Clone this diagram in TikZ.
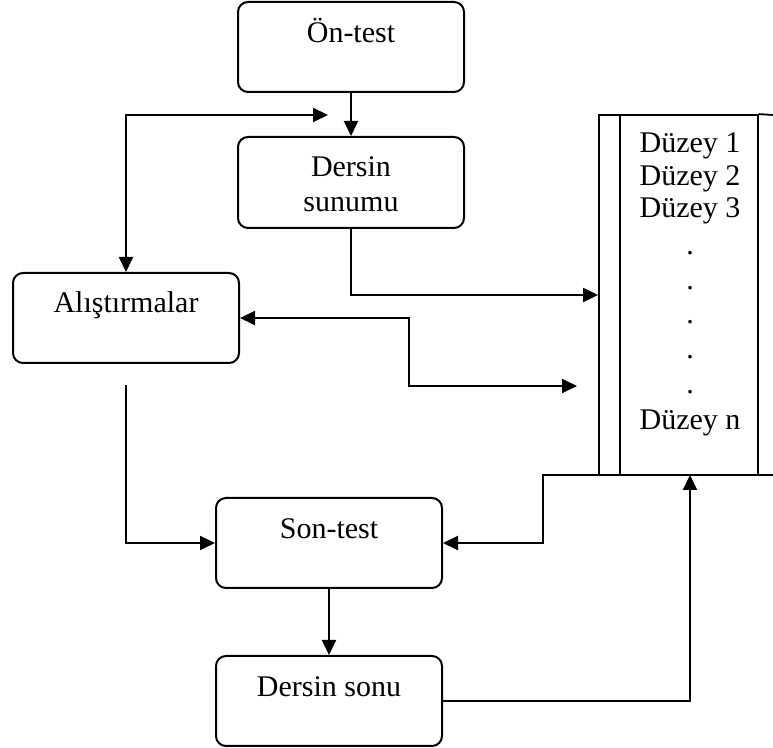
\documentclass[tikz,border=0pt]{standalone}
\usepackage{fontspec}
\setmainfont{Liberation Serif}
\usetikzlibrary{arrows.meta,fit}
\begin{document}
\begin{tikzpicture}[x=0.5pt,y=-0.5pt, line width=1pt,
  box/.style={draw, rounded corners=5pt, inner sep=0pt},
  frame/.style={draw, inner sep=0pt, line width=0.9pt},
  lbl/.style={font=\fontsize{15}{17.5}\selectfont, anchor=base, inner sep=0pt},
  tip/.style={-{Triangle[length=7.5pt,width=7pt]}},
  tips/.style={{Triangle[length=7.5pt,width=7pt]}-{Triangle[length=7.5pt,width=7pt]}}]
\useasboundingbox (0,0) rectangle (773,748);

% boxes
\node[box, fit={(238,2) (464,92)}] (on) {};
\node[box, fit={(238,137) (464,228)}] (ds) {};
\node[box, fit={(13,273) (239,363)}] (alis) {};
\node[box, fit={(216,498) (442,588)}] (son) {};
\node[box, fit={(216,656) (442,746)}] (sonu) {};
\node[frame, fit={(599,115) (758,475)}] (levels) {};

% texts
\node[lbl] (ontxt) at (351,43) {Ön-test};
\node[lbl] (dstxta) at (351,177) {Dersin};
\node[lbl] (dstxtb) at (351,212) {sunumu};
\node[lbl] (alistxt) at (126,313) {Alıştırmalar};
\node[lbl] (sontxt) at (329,539) {Son-test};
\node[lbl] (sonutxt) at (329,697) {Dersin sonu};

\node[lbl] (l1) at (690,153) {Düzey 1};
\node[lbl] (l2) at (690,186) {Düzey 2};
\node[lbl] (l3) at (690,218) {Düzey 3};
\node[lbl] (d1) at (690,255) {.};
\node[lbl] (d2) at (690,290) {.};
\node[lbl] (d3) at (690,324) {.};
\node[lbl] (d4) at (690,359) {.};
\node[lbl] (d5) at (690,394) {.};
\node[lbl] (ln) at (690,430) {Düzey n};

% right frame extras
\coordinate (tr) at (773,115);
\coordinate (br) at (773,475);
\coordinate (bl) at (543,475);
\draw[line width=0.9pt] ([xshift=11pt]levels.north west) -- ([xshift=11pt]levels.south west);
\draw[line width=0.9pt] (levels.north east) -- (tr);

% free ends
\coordinate (fb) at (328,115);
\coordinate (lvin) at (577,386);
\coordinate (alisout) at (126,385);
\coordinate (lvbot) at (690,475);

% connectors
\draw[tip] (on.south) -- (ds.north);
\draw[tips] (alis.north) |- (fb);
\draw[tip] (ds.south) |- (levels.west);
\draw[tips] (alis.east) -- ++(169,0) |- (lvin);
\draw[tip] (alisout) |- (son.west);
\draw[tip] (br) -- (bl) |- (son.east);
\draw[tip] (son.south) -- (sonu.north);
\draw[tip] (sonu.east) -| (lvbot);
\end{tikzpicture}
\end{document}
